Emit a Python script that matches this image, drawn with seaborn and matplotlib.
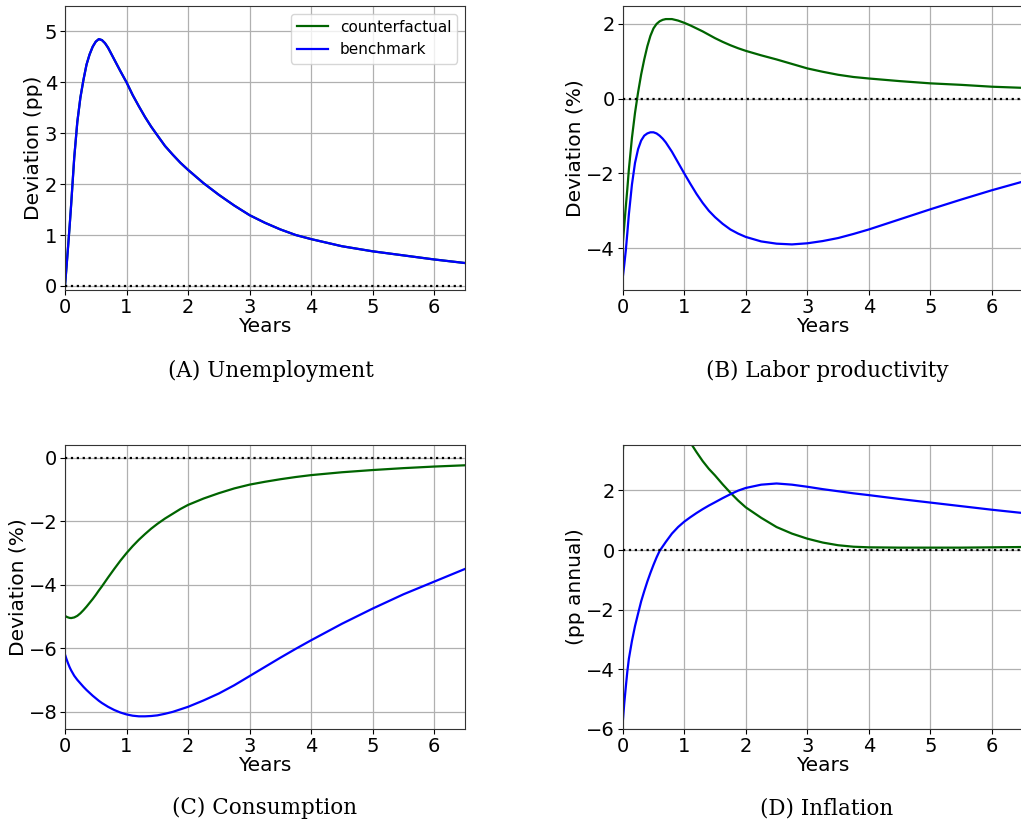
import numpy as np
import pandas as pd
import matplotlib
matplotlib.use("Agg")
import matplotlib.pyplot as plt
import seaborn as sns

# Time grid (years after the shock)
years = [0.0, 0.025, 0.05, 0.075, 0.1, 0.15, 0.2, 0.25, 0.3, 0.35, 0.4, 0.45, 0.5, 0.55,
         0.6, 0.65, 0.7, 0.8, 0.9, 1.0, 1.1, 1.2, 1.3, 1.4, 1.5, 1.625, 1.75, 1.875, 2.0,
         2.25, 2.5, 2.75, 3.0, 3.25, 3.5, 3.75, 4.0, 4.5, 5.0, 5.5, 6.0, 6.5]

# (A) Unemployment, deviation in pp (both scenarios coincide)
unemp_bench = [0.0, 0.38, 0.77, 1.17, 1.6, 2.52, 3.22, 3.7, 4.05, 4.35, 4.55, 4.7, 4.8, 4.85,
               4.83, 4.77, 4.68, 4.45, 4.22, 4.0, 3.75, 3.53, 3.32, 3.13, 2.96, 2.75, 2.58, 2.42, 2.28,
               2.02, 1.79, 1.58, 1.39, 1.24, 1.11, 1.0, 0.92, 0.78, 0.68, 0.6, 0.52, 0.45]
unemp_cf = list(unemp_bench)

# (B) Labor productivity, deviation in %
prod_cf = [-3.9, -3.4, -2.9, -2.42, -1.9, -1.05, -0.38, 0.17, 0.65, 1.05, 1.4, 1.68, 1.88, 2.0,
           2.07, 2.11, 2.13, 2.13, 2.09, 2.03, 1.96, 1.88, 1.8, 1.71, 1.62, 1.52, 1.43, 1.35, 1.28,
           1.16, 1.05, 0.93, 0.81, 0.72, 0.64, 0.58, 0.54, 0.47, 0.41, 0.37, 0.32, 0.29]
prod_bench = [-4.8, -4.45, -4.07, -3.6, -3.1, -2.3, -1.72, -1.35, -1.12, -0.99, -0.93, -0.9, -0.9, -0.93,
              -0.99, -1.07, -1.17, -1.42, -1.71, -2.0, -2.28, -2.55, -2.79, -3.0, -3.17, -3.35, -3.5, -3.61, -3.7,
              -3.82, -3.88, -3.9, -3.87, -3.81, -3.73, -3.62, -3.5, -3.23, -2.96, -2.7, -2.45, -2.22]

# (C) Consumption, deviation in %
cons_cf = [-4.98, -5.01, -5.03, -5.045, -5.05, -5.03, -4.98, -4.9, -4.8, -4.69, -4.57, -4.45, -4.32, -4.18,
           -4.05, -3.91, -3.77, -3.5, -3.24, -3.0, -2.78, -2.58, -2.4, -2.23, -2.08, -1.91, -1.76, -1.61, -1.48,
           -1.28, -1.11, -0.96, -0.84, -0.75, -0.67, -0.6, -0.54, -0.45, -0.38, -0.32, -0.27, -0.23]
cons_bench = [-6.2, -6.35, -6.48, -6.6, -6.7, -6.87, -7.0, -7.11, -7.22, -7.32, -7.41, -7.5, -7.58, -7.66,
              -7.73, -7.79, -7.85, -7.95, -8.03, -8.09, -8.13, -8.15, -8.15, -8.14, -8.12, -8.07, -8.01, -7.93, -7.85,
              -7.65, -7.43, -7.17, -6.88, -6.59, -6.3, -6.02, -5.75, -5.23, -4.75, -4.3, -3.9, -3.5]

# (D) Inflation, pp annual
infl_cf = [3.25, 4.0, 4.6, 5.1, 5.5, 6.0, 6.3, 6.42, 6.45, 6.4, 6.3, 6.15, 5.98, 5.8,
           5.6, 5.4, 5.2, 4.8, 4.4, 4.0, 3.6, 3.28, 2.98, 2.72, 2.5, 2.2, 1.92, 1.66, 1.43,
           1.08, 0.77, 0.55, 0.38, 0.25, 0.16, 0.11, 0.09, 0.08, 0.08, 0.08, 0.09, 0.1]
infl_bench = [-5.8, -5.15, -4.6, -4.08, -3.65, -3.05, -2.55, -2.13, -1.72, -1.38, -1.06, -0.77, -0.5, -0.25,
              -0.03, 0.12, 0.27, 0.55, 0.77, 0.95, 1.1, 1.24, 1.37, 1.49, 1.6, 1.74, 1.87, 1.99, 2.08,
              2.19, 2.23, 2.19, 2.12, 2.04, 1.97, 1.9, 1.84, 1.71, 1.59, 1.47, 1.35, 1.24]

series_names = ["counterfactual", "benchmark"]
colors = {"counterfactual": "#006400", "benchmark": "#0000ff"}

panels = [
    ("(A) Unemployment", "Deviation (pp)", unemp_cf, unemp_bench, (-0.08, 5.5), [0, 1, 2, 3, 4, 5]),
    ("(B) Labor productivity", "Deviation (%)", prod_cf, prod_bench, (-5.12, 2.48), [-4, -2, 0, 2]),
    ("(C) Consumption", "Deviation (%)", cons_cf, cons_bench, (-8.55, 0.41), [-8, -6, -4, -2, 0]),
    ("(D) Inflation", "(pp annual)", infl_cf, infl_bench, (-6.0, 3.52), [-6, -4, -2, 0, 2]),
]

plt.rcParams["font.family"] = ["DejaVu Sans"]
plt.rcParams["axes.edgecolor"] = "#333333"

fig = plt.figure(figsize=(10.21, 8.27), dpi=100)
W, H = 1021.0, 827.0
rects = [(65, 6), (622.7, 6), (65, 445), (622.7, 445)]
aw, ah = 400.0, 284.0
caption_pos = [(270.5, 371), (827.5, 371), (264.5, 808), (827.0, 808)]

for i, (caption, ylabel, cf, bench, ylim, yticks) in enumerate(panels):
    x0, y0 = rects[i]
    ax = fig.add_axes([x0 / W, 1 - (y0 + ah) / H, aw / W, ah / H])
    df = pd.DataFrame({
        "Years": years * 2,
        "value": list(cf) + list(bench),
        "scenario": ["counterfactual"] * len(years) + ["benchmark"] * len(years),
    })
    sns.lineplot(data=df, x="Years", y="value", hue="scenario", hue_order=series_names,
                 palette=colors, linewidth=1.6, ax=ax, legend=(i == 0), sort=True)
    ax.axhline(0, color="black", linestyle=":", linewidth=1.6, zorder=3)
    ax.set_xlim(0, 6.5)
    ax.set_ylim(*ylim)
    ax.set_xticks([0, 1, 2, 3, 4, 5, 6])
    ax.set_yticks(yticks)
    ax.grid(True, color="#b0b0b0", linewidth=0.9)
    ax.set_axisbelow(True)
    ax.tick_params(labelsize=14, length=3.5, pad=2)
    ax.set_xlabel("Years", fontsize=14.5, labelpad=0)
    ax.set_ylabel(ylabel, fontsize=14.5, labelpad=1)
    if i == 0:
        leg = ax.legend(loc="upper right", fontsize=11, frameon=True, handlelength=2.0)
        leg.set_title(None)
    cx, cy = caption_pos[i]
    fig.text(cx / W, 1 - cy / H, caption, ha="center", va="center",
             fontsize=15.5, family=["DejaVu Serif"])

fig.savefig("out.png", dpi=100)
